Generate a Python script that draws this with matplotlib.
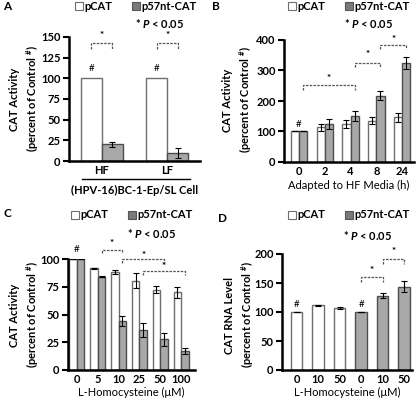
import matplotlib
matplotlib.use('Agg')

import matplotlib.pyplot as plt
from matplotlib.patches import Patch
import numpy as np

W, H = 416, 401

plt.rcParams['font.family'] = ['Lato', 'DejaVu Sans']
plt.rcParams['font.weight'] = 'bold'
plt.rcParams['mathtext.fontset'] = 'custom'
plt.rcParams['mathtext.rm'] = 'Lato:bold'
plt.rcParams['mathtext.it'] = 'Lato:bold:italic'

WHITE = 'white'
WHITE_EDGE = '#6e6e6e'
GREY = '#a8a8a8'
GREY_EDGE = '#4d4d4d'
FS = 8

# panel A
a_groups = ['HF', 'LF']
a_pcat = [100, 100]
a_p57 = [20, 10]
a_p57_err = [3.5, 6]

# panel B
b_groups = ['0', '2', '4', '8', '24']
b_pcat = [100, 114, 125, 135, 147]
b_pcat_err = [0, 11, 14, 11, 15]
b_p57 = [100, 125, 151, 218, 325]
b_p57_err = [0, 17, 16, 16, 19]

# panel C
c_groups = ['0', '5', '10', '25', '50', '100']
c_pcat = [100, 91.6, 88.5, 80.6, 72.3, 70.1]
c_pcat_err = [0, 0.5, 1.8, 6.5, 3.2, 4.8]
c_p57 = [100, 84.2, 44, 35.8, 27.5, 17.2]
c_p57_err = [0, 0.8, 4.6, 6.4, 6.2, 3]

# panel D
d_groups = ['0', '10', '50', '0', '10', '50']
d_vals = [100, 111.4, 106.8, 100, 128.4, 143.8]
d_err = [0, 1, 2, 0, 5, 9.5]
d_is_p57 = [False, False, False, True, True, True]


def fx(x):
    return x / W


def fy(y):
    return 1 - y / H


def make_axes(fig, left, right, bottom, top):
    ax = fig.add_axes([fx(left), fy(bottom), fx(right - left), (bottom - top) / H])
    for s in ['top', 'right']:
        ax.spines[s].set_visible(False)
    for s in ['left', 'bottom']:
        ax.spines[s].set_linewidth(1.8)
    ax.tick_params(axis='y', direction='out', length=4, width=1.5, labelsize=FS, pad=2)
    ax.tick_params(axis='x', length=0, labelsize=FS, pad=3)
    return ax


def bracket(ax, x1, x2, ylo, yhi, ystar):
    ax.plot([x1, x1, x2, x2], [ylo, yhi, yhi, ylo], color='#555555', lw=0.9,
            ls=(0, (2, 1)), clip_on=False)
    ax.text((x1 + x2) / 2, ystar, '*', ha='center', va='center', fontsize=7,
            clip_on=False)


def legend_block(fig, x_mid, y_leg, x_p, y_p):
    handles = [Patch(facecolor=WHITE, edgecolor=WHITE_EDGE, lw=0.8, label='pCAT'),
               Patch(facecolor='#7a7a7a', edgecolor='#555555', lw=0.8, label='p57nt-CAT')]
    fig.legend(handles=handles, loc='center', bbox_to_anchor=(fx(x_mid), fy(y_leg)),
               ncol=2, frameon=False, fontsize=FS, handlelength=0.7, handleheight=0.7,
               handletextpad=0.15, columnspacing=1.8, borderaxespad=0, borderpad=0)
    fig.text(fx(x_p), fy(y_p), r'* $P$ < 0.05', ha='left', va='center', fontsize=FS)


def ylabel(fig, x, y, first):
    fig.text(fx(x), fy(y), first + '\n(percent of Control $^{\\#}$)', rotation=90,
             ha='center', va='center', fontsize=FS, linespacing=1.3, multialignment='center')


fig = plt.figure(figsize=(W / 100, H / 100), dpi=100)

# ---------- A ----------
ax = make_axes(fig, 69, 200, 161, 37)
xa = np.arange(len(a_groups))
bw = 0.32
ax.bar(xa - bw / 2, a_pcat, bw, color=WHITE, edgecolor=WHITE_EDGE, lw=1)
ax.bar(xa + bw / 2, a_p57, bw, color=GREY, edgecolor=GREY_EDGE, lw=1,
       yerr=a_p57_err, capsize=2.5, error_kw=dict(lw=0.8, capthick=0.8))
ax.set_xlim(-0.5, 1.5)
ax.set_ylim(0, 150)
ax.set_yticks(np.arange(0, 151, 25))
ax.set_xticks(xa)
ax.set_xticklabels(a_groups)
for i in xa:
    ax.text(i - bw / 2, 112, '#', ha='center', va='center', fontsize=7, fontweight='normal')
    bracket(ax, i - bw / 2, i + bw / 2, 135, 143, 152)
ax.plot([-0.3, 1.35], [-0.145, -0.145], color='black', lw=1,
        transform=ax.get_xaxis_transform(), clip_on=False)
fig.text(fx(135), fy(190), '(HPV-16)BC-1-Ep/SL Cell', ha='center', va='center', fontsize=FS)
ylabel(fig, 25, 99, 'CAT Activity')
legend_block(fig, 136, 6, 135, 23)
fig.text(fx(3), fy(6), 'A', ha='left', va='center', fontsize=8.5)

# ---------- B ----------
ax = make_axes(fig, 284, 414, 162, 40)
xb = np.arange(len(b_groups))
ax.bar(xb - bw / 2, b_pcat, bw, color=WHITE, edgecolor=WHITE_EDGE, lw=1,
       yerr=b_pcat_err, capsize=2.5, error_kw=dict(lw=0.8, capthick=0.8))
ax.bar(xb + bw / 2, b_p57, bw, color=GREY, edgecolor=GREY_EDGE, lw=1,
       yerr=b_p57_err, capsize=2.5, error_kw=dict(lw=0.8, capthick=0.8))
ax.set_xlim(-0.58, 4.46)
ax.set_ylim(0, 400)
ax.set_yticks(np.arange(0, 401, 100))
ax.set_xticks(xb)
ax.set_xticklabels(b_groups)
ax.set_xlabel('Adapted to HF Media (h)', fontsize=FS, labelpad=2)
ax.text(0, 122, '#', ha='center', va='center', fontsize=7, fontweight='normal')
bracket(ax, 0 + bw / 2, 2 + bw / 2, 236, 252, 275)
bracket(ax, 2 + bw / 2, 3 + bw / 2, 311, 325, 354)
bracket(ax, 3 + bw / 2, 4 + bw / 2, 370, 384, 403)
ylabel(fig, 238, 100, 'CAT Activity')
legend_block(fig, 349, 6, 344, 23)
fig.text(fx(212), fy(6), 'B', ha='left', va='center', fontsize=8.5)

# ---------- C ----------
ax = make_axes(fig, 68, 195, 370, 259)
xc = np.arange(len(c_groups))
bwc = 0.36
ax.bar(xc - bwc / 2, c_pcat, bwc, color=WHITE, edgecolor=WHITE_EDGE, lw=1,
       yerr=c_pcat_err, capsize=2.5, error_kw=dict(lw=0.8, capthick=0.8))
ax.bar(xc + bwc / 2, c_p57, bwc, color=GREY, edgecolor=GREY_EDGE, lw=1,
       yerr=c_p57_err, capsize=2.5, error_kw=dict(lw=0.8, capthick=0.8))
ax.set_xlim(-0.43, 5.67)
ax.set_ylim(0, 100)
ax.set_yticks(np.arange(0, 101, 25))
ax.set_xticks(xc)
ax.set_xticklabels(c_groups)
ax.set_xlabel('L-Homocysteine (\u03bcM)', fontsize=FS, labelpad=1)
ax.text(0, 109, '#', ha='center', va='center', fontsize=7, fontweight='normal', clip_on=False)
bracket(ax, 1 + bwc / 2, 2 + bwc / 2, 105, 108, 114)
bracket(ax, 2 + bwc / 2, 4 + bwc / 2, 96, 100, 103.5)
bracket(ax, 3 + bwc / 2, 5 + bwc / 2, 86, 89, 93)
ylabel(fig, 25, 315, 'CAT Activity')
legend_block(fig, 132, 215, 127, 233)
fig.text(fx(3), fy(214), 'C', ha='left', va='center', fontsize=8.5)

# ---------- D ----------
ax = make_axes(fig, 282, 412, 370, 254)
xd = np.arange(len(d_groups))
bwd = 0.53
colors = [GREY if p else WHITE for p in d_is_p57]
edges = [GREY_EDGE if p else WHITE_EDGE for p in d_is_p57]
ax.bar(xd, d_vals, bwd, color=colors, edgecolor=edges, lw=1,
       yerr=d_err, capsize=2.5, error_kw=dict(lw=0.8, capthick=0.8))
ax.set_xlim(-0.68, 5.37)
ax.set_ylim(0, 200)
ax.set_yticks(np.arange(0, 201, 50))
ax.set_xticks(xd)
ax.set_xticklabels(d_groups)
ax.set_xlabel('L-Homocysteine (\u03bcM)', fontsize=FS, labelpad=1)
for i in [0, 3]:
    ax.text(i, 113, '#', ha='center', va='center', fontsize=7, fontweight='normal')
bracket(ax, 3, 4, 152, 160, 172)
bracket(ax, 4, 5, 182, 192, 205)
ylabel(fig, 240, 315, 'CAT RNA Level')
legend_block(fig, 349, 215, 343, 235)
fig.text(fx(218), fy(218), 'D', ha='left', va='center', fontsize=8.5)

fig.savefig('out.png', dpi=100)
